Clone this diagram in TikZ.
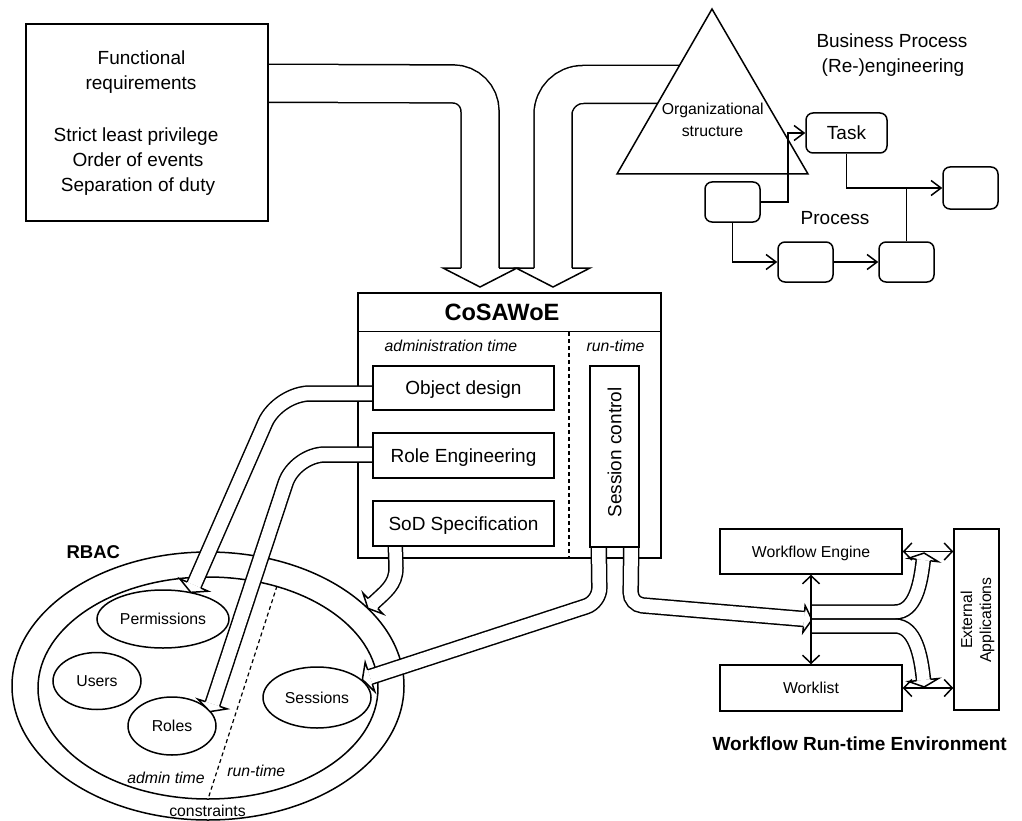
\documentclass[tikz,border=0pt]{standalone}
\usepackage{fontspec}
\setmainfont{Liberation Sans}
\usetikzlibrary{calc,shapes.geometric,arrows.meta}
\pgfdeclarelayer{bg}
\pgfdeclarelayer{pipes}
\pgfsetlayers{bg,pipes,main}
% #1 end point, #2 point behind, #3 pipe half width, #4 head half width, #5 head length
\newcommand{\pipetip}[5]{%
  \fill[white] ($(#1)!#4!90:(#2)$) -- ($(#1)!-#5!(#2)$) -- ($(#1)!#4!-90:(#2)$) -- cycle;
  \draw ($(#1)!#3!90:(#2)$) -- ($(#1)!#4!90:(#2)$) -- ($(#1)!-#5!(#2)$) -- ($(#1)!#4!-90:(#2)$) -- ($(#1)!#3!-90:(#2)$);
}
\begin{document}
\begin{tikzpicture}[x=1pt,y=-1pt,line width=1.5pt,
  big/.style={font=\fontsize{19}{23}\selectfont},
  small/.style={font=\fontsize{15.8}{19}\selectfont},
  capb/.style={text height=13.6pt,text depth=0pt},
  caps/.style={text height=11.3pt,text depth=0pt},
  box/.style={draw,fill=white,rectangle,inner sep=0pt},
  rbox/.style={box,rounded corners=7pt},
  ell/.style={draw,ellipse,inner sep=0pt},
  pipe/.style={draw=black,double=white,double distance=#1},
  parr/.style={-{Straight Barb[length=10pt,width=15pt]}},
  darr/.style={{Straight Barb[length=8pt,width=17pt]}-{Straight Barb[length=8pt,width=17pt]}},
  dsh/.style={line width=1.2pt,dash pattern=on 4pt off 3pt}]
\useasboundingbox (0,0) rectangle (1022,821);

% ---------------- main layer ----------------
% requirements box
\node[box,minimum width=242pt,minimum height=197pt] (req) at (147,122.5) {};
\node[big,anchor=base] (t1) at (141.5,65) {Functional};
\node[big,anchor=base] (t2) at (141,90) {requirements};
\node[big,anchor=base] (t3) at (136,142) {Strict least privilege};
\node[big,anchor=base] (t4) at (138,167) {Order of events};
\node[big,anchor=base] (t5) at (138,192) {Separation of duty};

% organizational structure triangle
\draw[fill=white] (712,9) coordinate (apex) -- (808,174) coordinate (triR) -- (617,174) coordinate (triL) -- cycle;
\node[small,anchor=base] (org1) at (712.8,115) {Organizational};
\node[small,anchor=base] (org2) at (712.5,136.7) {structure};

% business process
\node[big,anchor=base] (bp1) at (892,48) {Business Process};
\node[big,anchor=base] (bp2) at (893,73) {(Re-)engineering};
\node[rbox,big,capb,minimum width=81pt,minimum height=40pt] (task) at (846.5,133) {Task};
\node[rbox,minimum width=55pt,minimum height=40pt] (p1) at (732.5,202) {};
\node[rbox,minimum width=55pt,minimum height=42pt] (pr) at (970.5,188) {};
\node[rbox,minimum width=55pt,minimum height=40pt] (p2) at (805.5,262) {};
\node[rbox,minimum width=55pt,minimum height=40pt] (p3) at (906.5,262) {};
\node[big,anchor=base] (proc) at (835,224) {Process};
\draw[parr] (p1.east) -- ++(27,0) |- (task.west);
\draw[parr] (task.south) |- (pr.west);
\draw (p3.north) -- (p3.north |- pr.west);
\draw[parr] (p1.south) |- (p2.west);
\draw[parr] (p2.east) -- (p3.west);

% CoSAWoE texts and inner boxes
\node[font=\fontsize{23.6}{28}\selectfont\bfseries,anchor=base] (cost) at (502,320.7) {CoSAWoE};
\node[font=\fontsize{15.8}{19}\selectfont\itshape,anchor=base] (adt) at (451,351.7) {administration time};
\node[font=\fontsize{15.8}{19}\selectfont\itshape,anchor=base] (rtt) at (615.5,351.7) {run-time};
\node[box,big,capb,minimum width=181pt,minimum height=44pt] (od) at (463.5,388) {Object design};
\node[box,big,capb,minimum width=181pt,minimum height=45pt] (re) at (463.5,455.5) {Role Engineering};
\node[box,big,capb,minimum width=181pt,minimum height=45pt] (sod) at (463.5,523.5) {SoD Specification};
\node[box,minimum width=49pt,minimum height=181pt] (sc) at (614.5,456.5) {};
\node[big,rotate=90] (sct) at (614.5,452.5) {Session control};

% RBAC labels
\node[font=\fontsize{18.5}{22}\selectfont\bfseries,anchor=base] (rbac) at (93.3,558.3) {RBAC};
\node[font=\fontsize{15.8}{19}\selectfont\itshape,anchor=base] (admt) at (166,783.3) {admin time};
\node[font=\fontsize{15.8}{19}\selectfont\itshape,anchor=base] (runt) at (256.3,776) {run-time};
\node[small,anchor=base] (cons) at (207.5,816.7) {constraints};

% workflow run-time environment
\node[box,small,caps,minimum width=182pt,minimum height=45pt] (we) at (811,551.5) {Workflow Engine};
\node[box,small,caps,minimum width=182pt,minimum height=46pt] (wl) at (811,688) {Worklist};
\node[box,minimum width=45pt,minimum height=181pt] (ea) at (976.5,619.5) {};
\node[small,rotate=90,align=center] (eat) at (977.5,620) {External\\Applications};
\draw[darr] (we.east) -- (we.east -| ea.west);
\draw[darr] (wl.east) -- (wl.east -| ea.west);
\draw[darr] (we.south) -- (wl.north);
\node[font=\fontsize{19}{23}\selectfont\bfseries,anchor=base] (wrte) at (859.7,750) {Workflow Run-time Environment};

% ---------------- background layer ----------------
\begin{pgfonlayer}{bg}
\begin{scope}[line width=1.5pt]
\fill[white] (0,0) rectangle (1022,821);
\node[ell,minimum width=392pt,minimum height=268pt] (outer) at (208,686) {};
\node[ell,minimum width=340pt,minimum height=222pt] (inner) at (208,688) {};
\draw[dsh] (277,586) coordinate (dl1) -- (208,799) coordinate (dl2);
\node[ell,small,caps,minimum width=132pt,minimum height=58pt] (perm) at (163,619) {Permissions};
\node[ell,small,caps,minimum width=88pt,minimum height=57pt] (users) at (97,681) {Users};
\node[ell,small,caps,minimum width=88pt,minimum height=58pt] (roles) at (172,726) {Roles};
\node[ell,small,caps,minimum width=108pt,minimum height=61pt] (sess) at (317,697.5) {Sessions};
\node[box,minimum width=303pt,minimum height=265pt] (cos) at (509.5,425.5) {};
\draw ($(cos.north west)+(0,39)$) coordinate (hl) -- (hl -| cos.east);
\draw[dsh] (569,332) coordinate (dv) -- (dv |- cos.south);
\end{scope}
\end{pgfonlayer}

% ---------------- pipes layer ----------------
\begin{pgfonlayer}{pipes}
\begin{scope}[line width=1.5pt]
% requirements -> CoSAWoE
\coordinate (bK1) at (480,84); \coordinate (bE1) at (480,268);
\draw[pipe=36.5pt,rounded corners=27pt] ($(req.north east)+(-2,60)$) -- (bK1) -- (bE1);
\pipetip{bE1}{bK1}{19pt}{37pt}{19pt}
% organizational structure -> CoSAWoE
\coordinate (bS2) at (690,84.5); \coordinate (bK2) at (553,84.5); \coordinate (bE2) at (553,268);
\draw[pipe=36.5pt,rounded corners=30pt] (bS2) -- (bK2) -- (bE2);
\pipetip{bE2}{bK2}{19pt}{37pt}{19pt}
% object design -> permissions
\coordinate (odK) at (278,393.5); \coordinate (odE) at (194,585);
\draw[pipe=13.5pt,rounded corners=32pt] ($(od.west)+(2,5.5)$) -- (odK) -- (odE);
\pipetip{odE}{odK}{7.5pt}{15.5pt}{8pt}
% role engineering -> roles
\coordinate (reK) at (295,454.5); \coordinate (reE) at (212.5,704);
\draw[pipe=13.5pt,rounded corners=30pt] ($(re.west)+(2,-1)$) -- (reK) -- (reE);
\pipetip{reE}{reK}{7.5pt}{15.5pt}{8pt}
% SoD -> RBAC constraints
\coordinate (sdB) at (396,568); \coordinate (sdC) at (385,592); \coordinate (sdE) at (373,603.5);
\draw[pipe=12.5pt] ($(sod.south west)+(23,-2)$) -- (sdB) .. controls (396,585) and (sdC) .. (sdE);
\pipetip{sdE}{sdC}{7pt}{14.5pt}{7pt}
% session control -> sessions
\coordinate (s1K) at (599.5,602); \coordinate (s1E) at (370,677);
\draw[pipe=13.5pt,rounded corners=14pt] ($(sc.south west)+(9.5,-2)$) -- (s1K) -- (s1E);
\pipetip{s1E}{s1K}{7.5pt}{15.5pt}{8pt}
% session control -> workflow environment
\coordinate (s2K) at (630.5,604.4); \coordinate (s2E) at (804,619);
\draw[pipe=13.5pt,rounded corners=12pt] ($(sc.south east)+(-8.5,-2)$) -- (s2K) -- (s2E);
\pipetip{s2E}{s2K}{7.5pt}{13.5pt}{8pt}
% split towards external applications
\coordinate (jn) at (we.south |- s2E);
\coordinate (upB) at (895,612); \coordinate (upC) at (920.5,585); \coordinate (upE) at (923.3,560);
\draw[pipe=12.5pt] ($(jn)+(0,-7)$) -- (upB) .. controls (915,612) and (upC) .. (upE);
\pipetip{upE}{upC}{7pt}{15pt}{7pt}
\coordinate (loB) at (895,626); \coordinate (loC) at (921,655); \coordinate (loE) at (923.5,680);
\draw[pipe=12.5pt] ($(jn)+(0,7)$) -- (loB) .. controls (915,626) and (loC) .. (loE);
\pipetip{loE}{loC}{7pt}{15pt}{7pt}
\end{scope}
\end{pgfonlayer}
\end{tikzpicture}
\end{document}
